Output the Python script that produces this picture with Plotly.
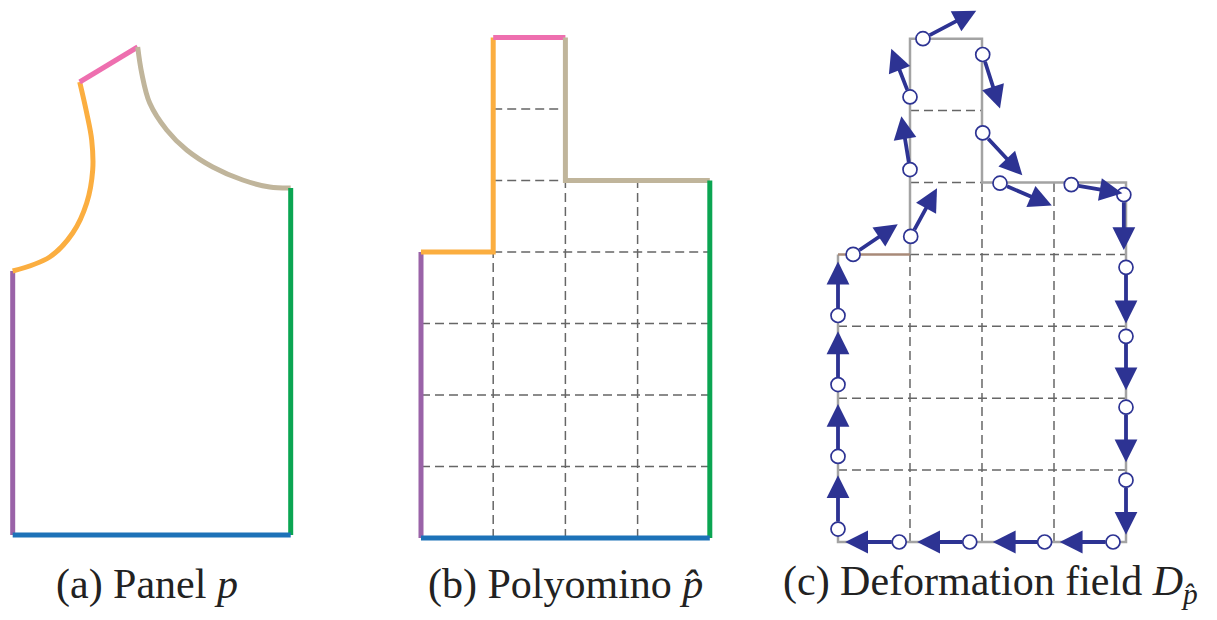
import plotly.graph_objects as go

W, H = 1217, 620
OFF = 8  # page body margin of the browser; compensate so marks land at reference pixels

# ---------------- data ----------------
# Panel (a): garment panel outline pieces (units ~ reference px, origin bottom-left, y up)
a_purple_x = [0, 0]
a_purple_y = [0, 264]
a_orange_x = [0, 37, 60, 74, 80, 79, 74, 67]
a_orange_y = [264, 278, 302, 332, 365, 395, 422, 453]
a_pink_x = [67, 125]
a_pink_y = [453, 488]
a_tan_x = [125, 129, 137, 154, 174, 200, 230, 257, 278]
a_tan_y = [488, 462, 432, 405, 385, 368, 355, 348, 347]
a_green_x = [278, 278]
a_green_y = [347, 0]
a_blue_x = [278, 0]
a_blue_y = [0, 0]

# Panel (b)/(c): polyomino in grid units
p_purple = ([0, 0], [0, 4])
p_orange = ([0, 1, 1], [4, 4, 7])
p_pink = ([1, 2], [7, 7])
p_tan = ([2, 2, 4], [7, 5, 5])
p_green = ([4, 4], [5, 0])
p_blue = ([4, 0], [0, 0])

# dashed interior grid segments: (x0, y0, x1, y1)
grid_segments = [
    (0, 1, 4, 1), (0, 2, 4, 2), (0, 3, 4, 3), (1, 4, 4, 4),
    (1, 5, 2, 5), (1, 6, 2, 6),
    (1, 0, 1, 4), (2, 0, 2, 5), (3, 0, 3, 5),
]

# Panel (c): outline (gray) and the brownish edge
c_outline_x = [1, 1, 2, 2, 4, 4, 0, 0]
c_outline_y = [4, 7, 7, 5, 5, 0, 0, 4]
c_brown_x = [0, 1]
c_brown_y = [4, 4]

# Deformation field: sample points (tail) and arrow tips (grid units)
pt_x = [0.85, 1.83, 2.87, 3.82,
        0.0, 0.0, 0.0, 0.0,
        0.21, 1.01, 1.0, 1.0, 1.18, 2.01, 2.01, 2.25, 3.24, 3.97,
        4.0, 4.0, 4.0, 4.0]
pt_y = [0.0, 0.0, 0.0, 0.0,
        0.18, 1.19, 2.19, 3.15,
        4.0, 4.25, 5.18, 6.19, 7.0, 6.78, 5.69, 4.99, 4.97, 4.83,
        3.82, 2.86, 1.875, 0.86]
tip_x = [0.1, 1.1, 2.15, 3.08,
         0.0, 0.0, 0.0, 0.0,
         0.83, 1.375, 0.88, 0.74, 1.92, 2.25, 2.56, 2.97, 3.95, 3.97,
         4.0, 4.0, 4.0, 4.0]
tip_y = [0.0, 0.0, 0.0, 0.0,
         0.93, 1.92, 2.93, 3.90,
         4.42, 4.92, 5.92, 6.86, 7.39, 6.03, 5.1, 4.68, 4.85, 4.06,
         3.04, 2.11, 1.11, 0.10]

captions = ["(a) Panel <i>p</i>",
            "(b) Polyomino <i>p\u0302</i>",
            "(c) Deformation field <i>D</i><sub><i>p\u0302</i></sub>"]
caption_px = [147, 565, 990]

# ---------------- styles ----------------
PURPLE = "#9a63a8"
ORANGE = "#fbae40"
PINK = "#ee6faf"
TAN = "#c0b59b"
GREEN = "#0ba552"
BLUE = "#1d72b8"
NAVY = "#2d3393"
GRAY = "#a3a3a3"
DASH = "#666666"
LW = 5

fig = go.Figure()


def seg(x, y, color, width, xa, ya, dash=None, shape="linear"):
    fig.add_trace(go.Scatter(x=x, y=y, mode="lines", xaxis=xa, yaxis=ya,
                             line=dict(color=color, width=width, dash=dash, shape=shape),
                             hoverinfo="skip", showlegend=False))


# Panel (a)
seg(a_purple_x, a_purple_y, PURPLE, LW, "x", "y")
seg(a_orange_x, a_orange_y, ORANGE, LW, "x", "y", shape="spline")
seg(a_pink_x, a_pink_y, PINK, LW, "x", "y")
seg(a_tan_x, a_tan_y, TAN, LW, "x", "y", shape="spline")
seg(a_green_x, a_green_y, GREEN, LW, "x", "y")
seg(a_blue_x, a_blue_y, BLUE, LW, "x", "y")

# Panel (b)
for (x0, y0, x1, y1) in grid_segments:
    seg([x0, x1], [y0, y1], DASH, 1.5, "x2", "y2", dash="9px,5px")
for (xs, ys), col in [(p_purple, PURPLE), (p_orange, ORANGE), (p_pink, PINK),
                      (p_tan, TAN), (p_green, GREEN), (p_blue, BLUE)]:
    seg(xs, ys, col, LW, "x2", "y2")

# Panel (c)
for (x0, y0, x1, y1) in grid_segments:
    seg([x0, x1], [y0, y1], DASH, 1.5, "x3", "y3", dash="9px,5px")
seg(c_outline_x, c_outline_y, GRAY, 2.5, "x3", "y3")
seg(c_brown_x, c_brown_y, "#a88a78", 2.5, "x3", "y3")

annotations = []
for px, py, tx, ty in zip(pt_x, pt_y, tip_x, tip_y):
    annotations.append(dict(x=tx, y=ty, ax=px, ay=py, xref="x3", yref="y3",
                            axref="x3", ayref="y3", text="", showarrow=True,
                            arrowhead=2, arrowsize=1.2, arrowwidth=3.8,
                            arrowcolor=NAVY, startstandoff=6))

fig.add_trace(go.Scatter(x=pt_x, y=pt_y, mode="markers", xaxis="x3", yaxis="y3",
                         marker=dict(symbol="circle", size=14, color="white",
                                     line=dict(color=NAVY, width=1.7)),
                         hoverinfo="skip", showlegend=False, cliponaxis=False))

for cx, txt in zip(caption_px, captions):
    annotations.append(dict(x=(cx - OFF) / W, y=1 - (584 - OFF) / H, xref="paper", yref="paper",
                            text=txt, showarrow=False, xanchor="center", yanchor="middle",
                            font=dict(family="Liberation Serif", size=42, color="#222222")))


def clamp(v):
    return min(1.0, max(0.0, v))


def dom_x(p0, p1):
    return [clamp((p0 - OFF) / W), clamp((p1 - OFF) / W)]


def dom_y(pb, pt):
    return [clamp(1 - (pb - OFF) / H), clamp(1 - (pt - OFF) / H)]


def axes(ox, oy, sx, sy, xr, yr):
    xd = dom_x(ox + xr[0] * sx, ox + xr[1] * sx)
    yd = dom_y(oy - yr[0] * sy, oy - yr[1] * sy)
    ax_common = dict(visible=False, showgrid=False, zeroline=False, fixedrange=True)
    return dict(range=xr, domain=xd, **ax_common), dict(range=yr, domain=yd, **ax_common)


xa1, ya1 = axes(12.7, 535, 1.0, 1.0, [-4, 290], [-15, 500])
xa2, ya2 = axes(421, 538, 72.2, 71.5, [-0.6, 4.6], [-0.4, 7.4])
xa3, ya3 = axes(838, 542, 72.0, 71.9, [-0.6, 4.6], [-0.3, 7.42])
xa1["anchor"] = "y"; ya1["anchor"] = "x"
xa2["anchor"] = "y2"; ya2["anchor"] = "x2"
xa3["anchor"] = "y3"; ya3["anchor"] = "x3"

fig.update_layout(
    width=W, height=H, margin=dict(l=0, r=0, t=0, b=0),
    paper_bgcolor="white", plot_bgcolor="white",
    xaxis=xa1, yaxis=ya1, xaxis2=xa2, yaxis2=ya2, xaxis3=xa3, yaxis3=ya3,
    annotations=annotations, showlegend=False,
)

fig.write_html("out.html")
